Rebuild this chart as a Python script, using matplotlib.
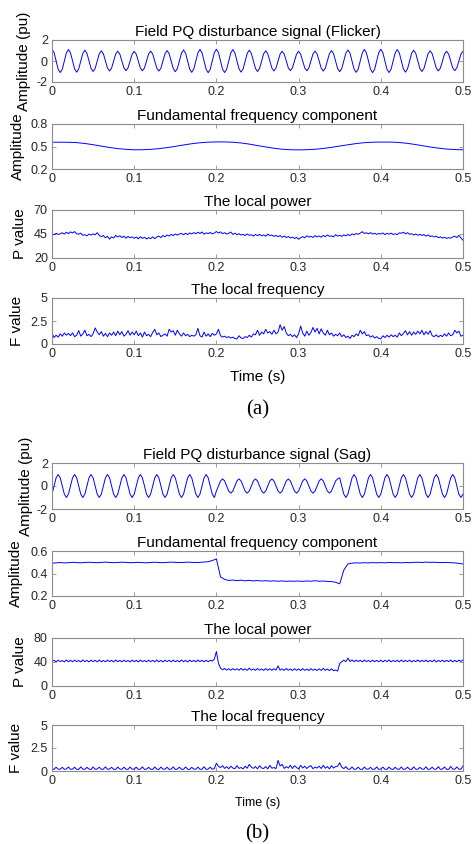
import matplotlib.pyplot as plt
import numpy as np

# ---------------------------------------------------------------------------
# data, every series spans 0 .. 0.5 s
# ---------------------------------------------------------------------------

# (a) flicker record, 8 samples per 50 Hz cycle
flicker_signal = [
    1.12, 0.80, 0.00, -0.78, -1.10, -0.78, 0.00, 0.77,
    1.09, 0.77, 0.00, -0.75, -1.06, -0.75, 0.00, 0.73,
    1.03, 0.73, 0.00, -0.71, -1.00, -0.71, 0.00, 0.69,
    0.97, 0.69, 0.00, -0.67, -0.95, -0.67, 0.00, 0.66,
    0.93, 0.66, 0.00, -0.65, -0.92, -0.65, 0.00, 0.65,
    0.92, 0.65, 0.00, -0.66, -0.93, -0.66, 0.00, 0.67,
    0.94, 0.67, 0.00, -0.68, -0.96, -0.68, 0.00, 0.70,
    0.99, 0.70, 0.00, -0.72, -1.02, -0.72, 0.00, 0.75,
    1.05, 0.75, 0.00, -0.77, -1.08, -0.77, 0.00, 0.78,
    1.10, 0.78, 0.00, -0.79, -1.11, -0.79, 0.00, 0.80,
    1.12, 0.80, 0.00, -0.78, -1.10, -0.78, 0.00, 0.77,
    1.09, 0.77, 0.00, -0.75, -1.06, -0.75, 0.00, 0.73,
    1.03, 0.73, 0.00, -0.71, -1.00, -0.71, 0.00, 0.69,
    0.97, 0.69, 0.00, -0.67, -0.95, -0.67, 0.00, 0.66,
    0.93, 0.66, 0.00, -0.65, -0.92, -0.65, 0.00, 0.65,
    0.92, 0.65, 0.00, -0.66, -0.93, -0.66, 0.00, 0.67,
    0.94, 0.67, 0.00, -0.68, -0.96, -0.68, 0.00, 0.70,
    0.99, 0.70, 0.00, -0.72, -1.02, -0.72, 0.00, 0.75,
    1.05, 0.75, 0.00, -0.77, -1.08, -0.77, 0.00, 0.78,
    1.10, 0.78, 0.00, -0.79, -1.11, -0.79, 0.00, 0.80,
    1.12, 0.80, 0.00, -0.78, -1.10, -0.78, 0.00, 0.77,
    1.09, 0.77, 0.00, -0.75, -1.06, -0.75, 0.00, 0.73,
    1.03, 0.73, 0.00, -0.71, -1.00, -0.71, 0.00, 0.69,
    0.97, 0.69, 0.00, -0.67, -0.95, -0.67, 0.00, 0.66,
    0.93, 0.66, 0.00, -0.65, -0.92, -0.65, 0.00, 0.65,
    0.92,
]

flicker_fundamental = [
    0.557, 0.557, 0.556, 0.552, 0.540, 0.524, 0.505, 0.487, 0.472, 0.462,
    0.456, 0.457, 0.462, 0.471, 0.485, 0.502, 0.520, 0.537, 0.550, 0.558,
    0.561, 0.561, 0.557, 0.547, 0.532, 0.513, 0.494, 0.477, 0.464, 0.457,
    0.455, 0.457, 0.463, 0.474, 0.489, 0.506, 0.523, 0.539, 0.551, 0.557,
    0.559, 0.559, 0.555, 0.545, 0.530, 0.512, 0.494, 0.478, 0.466, 0.459,
    0.456,
]

flicker_power = [
    45.5, 44.2, 45.8, 44.6, 45.1, 46.3, 44.9, 46.8, 45.4, 47.2,
    46.1, 47.5, 45.3, 44.8, 45.9, 43.6, 44.2, 43.1, 44.9, 43.8,
    45.2, 44.1, 46.4, 43.5, 42.2, 43.4, 41.0, 42.6, 39.6, 42.1,
    40.8, 43.5, 41.9, 43.2, 41.3, 42.8, 40.6, 42.5, 41.1, 42.0,
    40.5, 41.8, 39.9, 42.2, 40.4, 41.6, 39.8, 41.3, 40.2, 42.0,
    40.1, 41.9, 42.8, 41.2, 43.5, 42.1, 44.0, 42.9, 44.6, 43.3,
    45.1, 43.8, 44.9, 45.6, 44.2, 45.8, 44.4, 46.1, 45.0, 46.5,
    45.2, 46.9, 45.5, 47.1, 44.8, 46.2, 45.4, 46.6, 45.1, 46.0,
    47.6, 46.0, 47.2, 45.3, 46.4, 44.9, 45.8, 47.0, 44.6, 45.9,
    44.2, 45.3, 43.9, 44.7, 43.4, 45.0, 43.6, 44.3, 42.8, 44.5,
    43.2, 44.6, 43.0, 44.1, 42.7, 44.9, 43.3, 44.0, 42.5, 43.6,
    42.1, 43.4, 41.6, 42.9, 41.2, 42.4, 40.9, 41.8, 40.3, 41.5,
    39.5, 41.2, 42.3, 41.0, 43.1, 41.8, 42.6, 41.4, 43.3, 42.0,
    42.9, 41.6, 43.5, 42.2, 44.0, 42.6, 43.1, 42.0, 44.3, 42.8,
    43.6, 42.5, 44.2, 43.0, 44.5, 43.4, 45.1, 44.0, 45.6, 44.6,
    46.0, 47.4, 45.5, 46.3, 45.2, 46.5, 44.9, 45.8, 44.6, 45.5,
    45.0, 46.1, 44.4, 45.7, 44.8, 45.9, 44.5, 45.3, 44.3, 46.2,
    45.8, 46.9, 45.1, 46.4, 44.7, 45.2, 44.0, 45.0, 43.7, 44.6,
    43.5, 44.4, 42.8, 44.0, 42.3, 43.1, 41.9, 42.7, 41.2, 41.9,
    40.8, 41.6, 40.4, 41.2, 40.6, 41.9, 42.8, 41.3, 43.6, 40.9,
    38.5,
]

flicker_freq = [
    1.20, 0.70, 0.95, 0.75, 1.10, 0.85, 1.20, 0.95, 1.15, 0.90,
    1.20, 0.80, 0.95, 1.45, 0.85, 1.10, 1.50, 0.90, 1.05, 0.80,
    1.10, 1.75, 1.30, 1.00, 1.35, 0.85, 1.15, 0.80, 1.20, 0.95,
    1.30, 0.90, 1.40, 1.00, 1.35, 0.85, 1.05, 1.45, 0.95, 1.30,
    1.00, 1.40, 0.90, 1.20, 0.75, 1.30, 0.90, 1.05, 0.80, 1.25,
    1.60, 1.00, 1.20, 0.80, 0.95, 1.10, 0.85, 1.60, 1.30, 1.45,
    0.95, 1.50, 1.10, 0.85, 1.20, 0.90, 1.05, 0.80, 0.95, 0.85,
    1.00, 1.70, 0.90, 0.75, 1.30, 0.85, 1.10, 0.80, 1.15, 0.95,
    1.10, 1.60, 0.90, 0.75, 0.85, 0.70, 0.80, 0.65, 0.75, 0.60,
    0.55, 0.90, 0.65, 0.60, 0.80, 0.70, 0.95, 0.75, 1.10, 1.00,
    1.50, 0.95, 1.30, 1.10, 1.60, 1.20, 1.35, 1.05, 1.50, 1.10,
    1.30, 2.10, 1.50, 1.90, 1.20, 0.90, 1.05, 0.80, 1.00, 0.70,
    1.10, 1.95, 1.20, 0.85, 1.40, 0.95, 1.25, 1.80, 1.30, 1.70,
    1.10, 1.65, 1.20, 0.95, 1.50, 1.00, 1.20, 0.85, 1.05, 0.90,
    1.20, 0.80, 1.00, 0.70, 0.85, 0.60, 0.95, 0.80, 1.10, 0.90,
    1.50, 1.10, 1.35, 0.90, 1.00, 0.75, 0.90, 0.65, 0.80, 0.60,
    0.55, 0.90, 0.70, 0.95, 0.75, 1.00, 0.80, 0.95, 0.75, 1.20,
    0.90, 1.15, 1.45, 1.00, 1.35, 0.95, 1.30, 1.05, 1.40, 1.10,
    1.50, 1.00, 1.35, 1.05, 1.45, 0.90, 0.80, 1.00, 0.75, 0.95,
    0.80, 1.10, 0.85, 1.20, 0.90, 1.00, 1.50, 1.20, 1.40, 0.85,
    0.95,
]

# (b) sag record, 8 samples per 50 Hz cycle
sag_signal = [
    -0.71, 0.00, 0.71, 1.00, 0.71, 0.00, -0.71, -1.00,
    -0.71, 0.00, 0.71, 1.00, 0.71, 0.00, -0.71, -1.00,
    -0.71, 0.00, 0.71, 1.00, 0.71, 0.00, -0.71, -1.00,
    -0.71, 0.00, 0.71, 1.00, 0.71, 0.00, -0.71, -1.00,
    -0.71, 0.00, 0.71, 1.00, 0.71, 0.00, -0.71, -1.00,
    -0.71, 0.00, 0.71, 1.00, 0.71, 0.00, -0.71, -1.00,
    -0.71, 0.00, 0.71, 1.00, 0.71, 0.00, -0.71, -1.00,
    -0.71, 0.00, 0.71, 1.00, 0.71, 0.00, -0.71, -1.00,
    -0.71, 0.00, 0.71, 1.00, 0.71, 0.00, -0.71, -1.00,
    -0.71, 0.00, 0.71, 1.00, 0.71, 0.00, -0.71, -1.00,
    -0.44, 0.00, 0.44, 0.62, 0.44, 0.00, -0.44, -0.62,
    -0.44, 0.00, 0.44, 0.62, 0.44, 0.00, -0.44, -0.62,
    -0.44, 0.00, 0.44, 0.62, 0.44, 0.00, -0.44, -0.62,
    -0.44, 0.00, 0.44, 0.62, 0.44, 0.00, -0.44, -0.62,
    -0.44, 0.00, 0.44, 0.62, 0.44, 0.00, -0.44, -0.62,
    -0.44, 0.00, 0.44, 0.62, 0.44, 0.00, -0.44, -0.62,
    -0.44, 0.00, 0.44, 0.62, 0.44, 0.00, -0.44, -0.62,
    -0.44, 0.00, 0.44, 0.62, 0.71, 0.00, -0.71, -1.00,
    -0.71, 0.00, 0.71, 1.00, 0.71, 0.00, -0.71, -1.00,
    -0.71, 0.00, 0.71, 1.00, 0.71, 0.00, -0.71, -1.00,
    -0.71, 0.00, 0.71, 1.00, 0.71, 0.00, -0.71, -1.00,
    -0.71, 0.00, 0.71, 1.00, 0.71, 0.00, -0.71, -1.00,
    -0.71, 0.00, 0.71, 1.00, 0.71, 0.00, -0.71, -1.00,
    -0.71, 0.00, 0.71, 1.00, 0.71, 0.00, -0.71, -1.00,
    -0.71, 0.00, 0.71, 1.00, 0.71, 0.00, -0.71, -1.00,
    -0.71,
]

sag_fundamental = [
    0.490, 0.495, 0.497, 0.494, 0.496, 0.499, 0.497, 0.495, 0.498, 0.500,
    0.498, 0.496, 0.499, 0.501, 0.498, 0.496, 0.498, 0.500, 0.499, 0.496,
    0.497, 0.499, 0.497, 0.495, 0.498, 0.500, 0.498, 0.496, 0.499, 0.501,
    0.499, 0.497, 0.499, 0.501, 0.499, 0.497, 0.499, 0.502, 0.505, 0.515,
    0.530, 0.370, 0.348, 0.338, 0.342, 0.336, 0.341, 0.335, 0.339, 0.334,
    0.338, 0.333, 0.336, 0.332, 0.335, 0.331, 0.334, 0.330, 0.333, 0.331,
    0.333, 0.330, 0.334, 0.331, 0.336, 0.331, 0.333, 0.330, 0.328, 0.322,
    0.308, 0.430, 0.485, 0.492, 0.495, 0.493, 0.496, 0.494, 0.497, 0.495,
    0.497, 0.495, 0.498, 0.496, 0.497, 0.495, 0.498, 0.496, 0.499, 0.500,
    0.498, 0.501, 0.499, 0.500, 0.498, 0.497, 0.499, 0.496, 0.494, 0.490,
    0.484,
]

sag_power = [
    40.5, 42.8, 40.2, 43.1, 40.6, 42.5, 40.1, 43.4, 40.4, 42.9,
    40.3, 43.2, 40.7, 42.6, 40.2, 43.5, 40.5, 42.7, 40.1, 43.0,
    40.6, 42.8, 40.3, 43.3, 40.4, 42.6, 40.2, 43.1, 40.7, 42.9,
    40.1, 43.4, 40.5, 42.7, 40.3, 43.0, 40.6, 42.5, 40.2, 43.2,
    40.4, 42.9, 40.1, 43.3, 40.6, 42.6, 40.3, 43.1, 40.5, 42.8,
    40.2, 43.5, 40.4, 42.7, 40.1, 43.0, 40.6, 42.9, 40.3, 43.2,
    40.5, 42.6, 40.2, 43.4, 40.4, 42.8, 40.1, 43.1, 40.6, 42.7,
    40.3, 43.3, 40.5, 42.9, 40.2, 43.0, 40.4, 42.8, 41.5, 45.0,
    57.5, 38.0, 29.5, 27.0, 29.2, 26.5, 28.8, 26.3, 29.0, 26.6,
    28.7, 26.2, 29.3, 26.5, 28.6, 26.1, 29.8, 26.4, 28.5, 26.2,
    29.1, 26.4, 28.4, 26.0, 29.0, 26.3, 28.7, 26.1, 28.9, 26.5,
    33.5, 26.3, 28.6, 26.0, 29.2, 26.2, 28.4, 25.9, 28.8, 26.1,
    28.5, 25.8, 29.0, 26.0, 28.3, 25.7, 28.9, 26.1, 28.2, 25.8,
    28.6, 25.9, 29.5, 26.0, 28.4, 25.6, 28.7, 25.5, 26.5, 25.0,
    37.5, 40.5, 43.0, 40.6, 46.5, 40.8, 43.5, 40.4, 43.2, 40.7,
    42.9, 40.3, 43.3, 40.6, 42.7, 40.2, 43.1, 40.5, 42.8, 40.4,
    43.2, 40.1, 42.9, 40.6, 43.4, 40.3, 42.6, 40.5, 43.0, 40.2,
    43.3, 40.4, 42.8, 40.6, 43.1, 40.1, 42.7, 40.5, 43.4, 40.3,
    42.9, 40.6, 43.2, 40.2, 42.8, 40.4, 43.5, 40.1, 42.7, 40.5,
    43.1, 40.3, 42.9, 40.6, 43.3, 40.2, 42.8, 40.4, 43.2, 41.0,
    43.5,
]

sag_freq = [
    0.25, 0.17, 0.42, 0.20, 0.19, 0.40, 0.18, 0.22, 0.44, 0.18,
    0.21, 0.41, 0.19, 0.17, 0.45, 0.21, 0.18, 0.40, 0.20, 0.17,
    0.44, 0.19, 0.21, 0.42, 0.18, 0.20, 0.46, 0.18, 0.22, 0.40,
    0.19, 0.17, 0.43, 0.21, 0.18, 0.41, 0.20, 0.17, 0.44, 0.19,
    0.21, 0.42, 0.18, 0.20, 0.45, 0.17, 0.21, 0.40, 0.19, 0.18,
    0.44, 0.20, 0.17, 0.43, 0.21, 0.19, 0.41, 0.18, 0.20, 0.45,
    0.17, 0.21, 0.42, 0.19, 0.18, 0.44, 0.20, 0.17, 0.40, 0.21,
    0.19, 0.43, 0.18, 0.20, 0.46, 0.17, 0.21, 0.42, 0.19, 0.26,
    0.85, 0.50, 0.38, 0.58, 0.28, 0.48, 0.24, 0.52, 0.32, 0.25,
    0.58, 0.28, 0.38, 0.23, 0.52, 0.30, 0.72, 0.42, 0.28, 0.48,
    0.23, 0.58, 0.32, 0.27, 0.48, 0.23, 0.62, 0.30, 0.38, 0.25,
    1.15, 0.55, 0.72, 0.28, 0.48, 0.32, 0.62, 0.27, 0.58, 0.38,
    0.23, 0.62, 0.32, 0.52, 0.27, 0.48, 0.58, 0.25, 0.42, 0.32,
    0.52, 0.27, 0.62, 0.30, 0.48, 0.23, 0.58, 0.32, 0.48, 0.52,
    0.90, 0.42, 0.26, 0.48, 0.21, 0.19, 0.44, 0.18, 0.21, 0.42,
    0.19, 0.17, 0.44, 0.20, 0.21, 0.40, 0.18, 0.19, 0.45, 0.17,
    0.21, 0.42, 0.19, 0.18, 0.43, 0.21, 0.17, 0.41, 0.20, 0.19,
    0.44, 0.18, 0.21, 0.42, 0.19, 0.17, 0.45, 0.20, 0.18, 0.40,
    0.21, 0.19, 0.47, 0.17, 0.21, 0.42, 0.19, 0.20, 0.48, 0.18,
    0.21, 0.44, 0.19, 0.17, 0.50, 0.21, 0.19, 0.44, 0.20, 0.21,
    0.55,
]

x_ticks = [0, 0.1, 0.2, 0.3, 0.4, 0.5]
x_tick_labels = ["0", "0.1", "0.2", "0.3", "0.4", "0.5"]

# figure geometry in pixels (472 x 844 canvas)
W, H = 472, 844
LEFT, RIGHT = 52, 463

LINE = "#0000ff"
AXIS = "#8c8c8c"
TEXT = "#262626"

plt.rcParams["font.family"] = ["Liberation Sans", "DejaVu Sans"]


def draw_panel(fig, top, bottom, values, ylim, yticks, ytick_labels,
               title, ylabel, ylabel_x):
    ax = fig.add_axes([LEFT / W, 1 - bottom / H,
                       (RIGHT - LEFT) / W, (bottom - top) / H])
    t = np.linspace(0, 0.5, len(values))
    ax.plot(t, values, color=LINE, linewidth=0.7)

    ax.set_xlim(0, 0.5)
    ax.set_ylim(*ylim)
    ax.set_xticks(x_ticks)
    ax.set_xticklabels(x_tick_labels)
    ax.set_yticks(yticks)
    ax.set_yticklabels(ytick_labels)
    ax.tick_params(direction="in", top=True, right=True, length=3,
                   width=0.6, color=AXIS, labelcolor=TEXT, labelsize=9,
                   pad=3)
    for spine in ax.spines.values():
        spine.set_color(AXIS)
        spine.set_linewidth(0.8)

    ax.set_title(title, fontsize=11, pad=3, color="black")
    ax.set_ylabel(ylabel, fontsize=11, color="black")
    ax.yaxis.set_label_coords(ylabel_x, 0.5)
    return ax


fig = plt.figure(figsize=(W / 100, H / 100), dpi=100)
fig.patch.set_facecolor("white")

# (a) flicker
draw_panel(fig, 40, 82, flicker_signal, (-2, 2), [-2, 0, 2], ["-2", "0", "2"],
           "Field PQ disturbance signal (Flicker)", "Amplitude (pu)", -0.050)
draw_panel(fig, 124, 169, flicker_fundamental, (0.2, 0.8), [0.2, 0.5, 0.8],
           ["0.2", "0.5", "0.8"], "Fundamental frequency component",
           "Amplitude", -0.066)
draw_panel(fig, 210, 258, flicker_power, (20, 70), [20, 45, 70],
           ["20", "45", "70"], "The local power", "P value", -0.061)
ax_a4 = draw_panel(fig, 298, 344, flicker_freq, (0, 5), [0, 2.5, 5],
                   ["0", "2.5", "5"], "The local frequency", "F value", -0.068)
ax_a4.set_xlabel("Time (s)", fontsize=11, color="black")
ax_a4.xaxis.set_label_coords(0.5, -0.57)

# (b) sag
draw_panel(fig, 463, 509, sag_signal, (-2, 2), [-2, 0, 2], ["-2", "0", "2"],
           "Field PQ disturbance signal (Sag)", "Amplitude (pu)", -0.046)
draw_panel(fig, 551, 596, sag_fundamental, (0.2, 0.6), [0.2, 0.4, 0.6],
           ["0.2", "0.4", "0.6"], "Fundamental frequency component",
           "Amplitude", -0.070)
draw_panel(fig, 638, 686, sag_power, (0, 80), [0, 40, 80],
           ["0", "40", "80"], "The local power", "P value", -0.061)
ax_b4 = draw_panel(fig, 725, 771, sag_freq, (0, 5), [0, 2.5, 5],
                   ["0", "2.5", "5"], "The local frequency", "F value", -0.070)
ax_b4.set_xlabel("Time (s)", fontsize=9, color="black")
ax_b4.xaxis.set_label_coords(0.5, -0.57)

serif = ["Liberation Serif", "DejaVu Serif"]
fig.text((LEFT + RIGHT) / 2 / W, 1 - 410 / H, "(a)", ha="center",
         va="center", fontsize=15, family=serif)
fig.text((LEFT + RIGHT) / 2 / W, 1 - 834 / H, "(b)", ha="center",
         va="center", fontsize=15, family=serif)

fig.savefig("out.png", dpi=100, facecolor=fig.get_facecolor())
plt.close(fig)
